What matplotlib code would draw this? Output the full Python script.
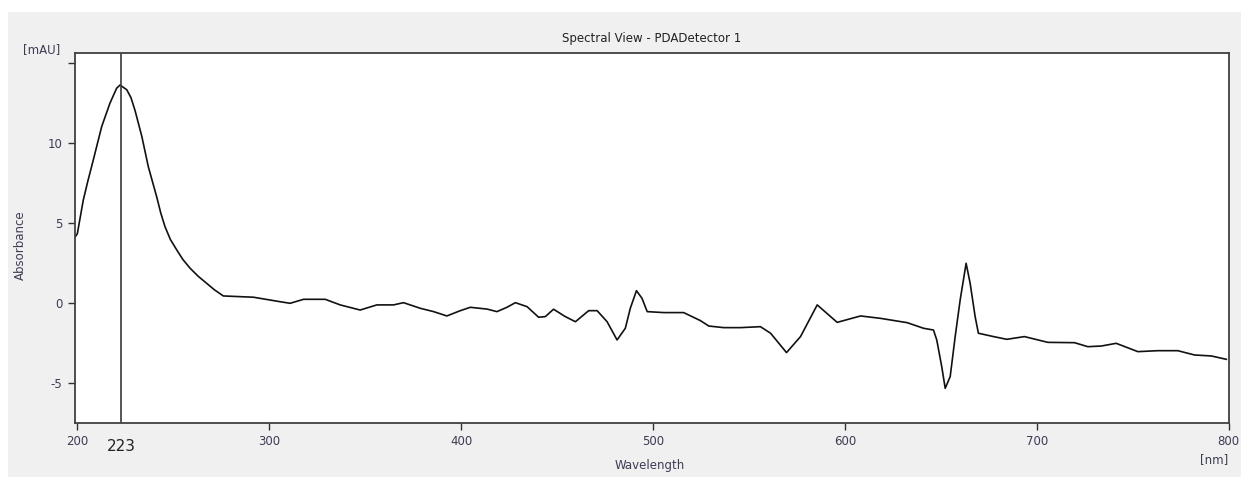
import matplotlib
matplotlib.use("Agg")
import matplotlib.pyplot as plt
from matplotlib.patches import Rectangle

# Absorbance spectrum (wavelength in nm, absorbance in mAU)
wavelength = [198.8, 200, 203.1, 205.5, 208.3, 212.7, 217.0, 220.5, 222.3, 225.8,
              228.0, 230.1, 233.6, 237.0, 241.4, 243.5, 245.7, 248.5, 251.8, 255.0,
              258.8, 263.0, 267.5, 271.5, 276.1, 291.8, 305.7,
              310.9, 317.9, 329.2, 337.0, 347.4, 356.1, 364.8, 370.0, 378.7, 385.7,
              392.6, 399.6, 404.8, 413.5, 418.7, 423.9, 428.3, 434.4, 440.4, 443.9,
              448.2, 454.3, 459.6, 466.5, 470.9, 476.1, 481.3, 485.6, 488.2, 491.4,
              494.3, 497.0, 505.6, 516.0, 524.7, 529.1, 536.9, 545.6, 556.0, 561.3,
              569.6, 576.9, 585.6, 596.0, 608.2, 618.6, 632.5, 641.0, 646.2, 647.9,
              650.5, 652.3, 654.9, 657.5, 660.1, 663.2, 665.3, 667.9, 669.6, 677.5,
              684.4, 693.6, 705.8, 719.7, 726.6, 733.6, 741.4, 752.7, 763.1, 773.5,
              782.3, 791.0, 798.8]
absorbance = [4.1, 4.3, 6.4, 7.6, 8.9, 11.0, 12.46, 13.4, 13.6, 13.3,
              12.8, 12.0, 10.4, 8.5, 6.6, 5.6, 4.75, 3.95, 3.3, 2.7,
              2.15, 1.65, 1.2, 0.8, 0.42, 0.34, 0.06,
              -0.04, 0.21, 0.21, -0.14, -0.46, -0.14, -0.14, 0.0, -0.35, -0.56,
              -0.83, -0.5, -0.29, -0.4, -0.56, -0.29, 0.0, -0.25, -0.91, -0.87,
              -0.41, -0.87, -1.19, -0.5, -0.5, -1.19, -2.33, -1.6, -0.35, 0.75,
              0.27, -0.56, -0.62, -0.62, -1.12, -1.46, -1.56, -1.56, -1.5, -1.91,
              -3.12, -2.12, -0.14, -1.23, -0.83, -0.98, -1.25, -1.6, -1.71, -2.33,
              -4.0, -5.35, -4.62, -2.12, 0.17, 2.46, 1.21, -0.87, -1.91, -2.12,
              -2.29, -2.12, -2.48, -2.5, -2.75, -2.71, -2.54, -3.06, -3.0, -3.0,
              -3.27, -3.33, -3.54]

cursor_nm = 223
x_ticks = [200, 300, 400, 500, 600, 700, 800]
y_ticks = [-5, 0, 5, 10, 15]
y_tick_labels = ["-5", "0", "5", "10", ""]

W, H = 1241, 480
fig = plt.figure(figsize=(W / 100, H / 100), dpi=100, facecolor="white")

# grey panel behind the plot
fig.patches.append(Rectangle((8 / W, 3 / H), 1 - 8 / W, (468 - 3) / H,
                             transform=fig.transFigure, facecolor="#f0f0f0",
                             edgecolor="none", zorder=-10))

ax = fig.add_axes([75 / W, (480 - 422.7) / H, (1229 - 75) / W, (422.7 - 53) / H])
ax.set_facecolor("white")
ax.plot(wavelength, absorbance, color="#111111", lw=1.2)
ax.axvline(cursor_nm, color="#3a3a3a", lw=1.2)

ax.set_xlim(198.8, 800.2)
ax.set_ylim(-7.5, 15.6)

tick_color = "#3c3c55"
ax.set_xticks(x_ticks)
ax.set_xticklabels([str(t) for t in x_ticks])
ax.set_yticks(y_ticks)
ax.set_yticklabels(y_tick_labels)
ax.tick_params(direction="out", length=5, width=1.0, color="#333333",
               labelsize=8.5, labelcolor=tick_color, pad=4)

for side in ("top", "right", "left", "bottom"):
    ax.spines[side].set_color("#404040")
    ax.spines[side].set_linewidth(1.3)

ax.set_title("Spectral View - PDADetector 1", fontsize=8.5, color="#222222", pad=8)
fig.text(650 / W, 1 - 466 / H, "Wavelength", ha="center", va="center",
         fontsize=8.5, color=tick_color)
fig.text(20 / W, 1 - 245 / H, "Absorbance", ha="center", va="center",
         rotation=90, fontsize=8.5, color=tick_color)
fig.text(42 / W, 1 - 50 / H, "[mAU]", ha="center", va="center",
         fontsize=8.5, color=tick_color)
fig.text(1228 / W, 1 - 460 / H, "[nm]", ha="right", va="center",
         fontsize=8.5, color=tick_color)

# wavelength of the cursor line
ax.annotate(str(cursor_nm), xy=(cursor_nm, 0), xycoords=("data", "axes fraction"),
            xytext=(0, -12), textcoords="offset points", ha="center", va="top",
            fontsize=11, color="#222222")

fig.savefig("out.png", dpi=100, facecolor=fig.get_facecolor())
